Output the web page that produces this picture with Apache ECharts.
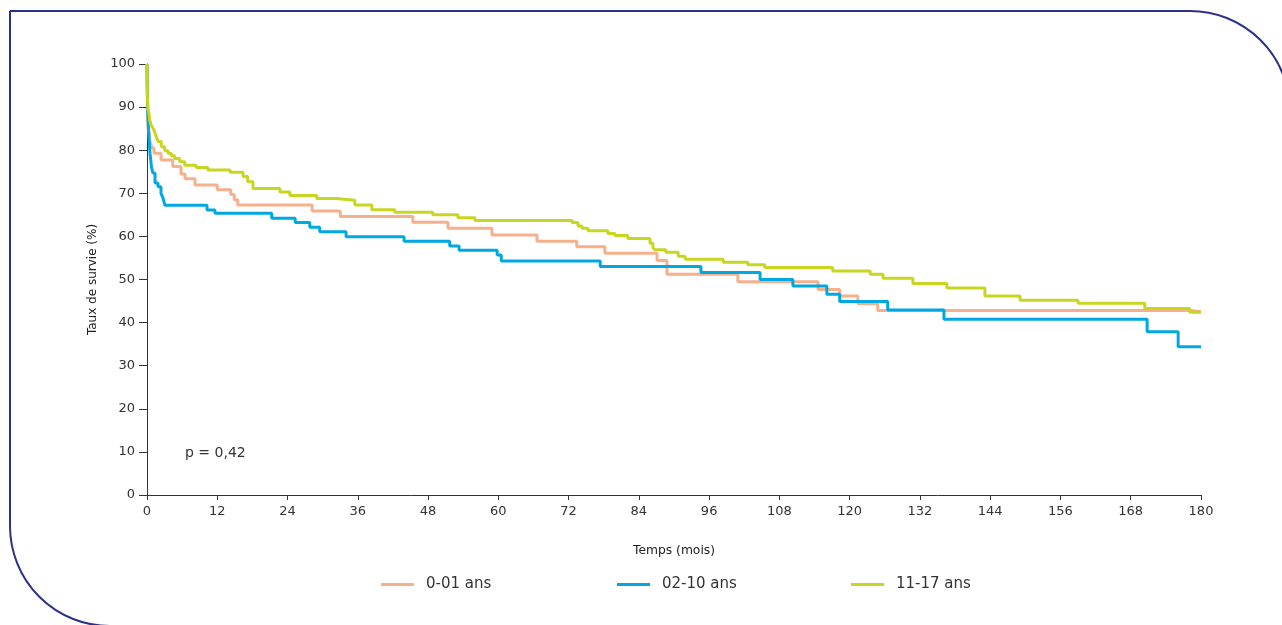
<!DOCTYPE html>
<html>
<head>
<meta charset="utf-8">
<script src="https://cdn.jsdelivr.net/npm/echarts@6/dist/echarts.min.js"></script>
<style>
html,body{margin:0;padding:0;background:#fff;}
#c{width:1282px;height:625px;}
</style>
</head>
<body>
<div id="c"></div>
<script>
// Kaplan-Meier step data (months, survival %)
const seriesNames = ['0-01 ans', '02-10 ans', '11-17 ans'];
const xTicks = [0, 12, 24, 36, 48, 60, 72, 84, 96, 108, 120, 132, 144, 156, 168, 180];

const t0001 = [0, 0.09, 0.17, 0.34, 0.51, 0.85, 1.2, 2.4, 4.4, 5.8, 6.5, 8.2, 12.0, 14.3, 14.9, 15.5, 28.2, 33.0, 45.4, 51.4, 58.9, 66.6, 73.4, 78.2, 87.1, 88.8, 100.9, 114.6, 118.3, 121.4, 124.8, 178.1, 180];
const s0001 = [100, 90, 85, 84, 82, 80.5, 79.3, 77.7, 76.2, 74.5, 73.4, 71.9, 70.8, 69.7, 68.5, 67.3, 65.9, 64.6, 63.3, 61.9, 60.3, 58.9, 57.6, 56.1, 54.4, 51.2, 49.5, 47.7, 46.2, 44.4, 42.8, 42.5, 42.5];

const t0210 = [0, 0.05, 0.1, 0.17, 0.26, 0.34, 0.51, 0.77, 1.02, 1.37, 1.88, 2.39, 2.73, 3.07, 10.25, 11.6, 21.3, 25.3, 27.8, 29.5, 34.0, 43.9, 51.7, 53.3, 59.8, 60.5, 77.4, 94.6, 104.7, 110.3, 116.1, 118.3, 126.5, 136.1, 170.8, 176.1, 180];
const s0210 = [100, 94.4, 91, 87.5, 85, 83, 79.3, 76, 74.7, 72.4, 71.5, 70, 68.9, 67.2, 66.1, 65.4, 64.2, 63.2, 62.1, 61.1, 59.9, 58.9, 57.8, 56.8, 55.7, 54.3, 53.0, 51.6, 50.0, 48.5, 46.6, 44.9, 42.9, 40.8, 37.9, 34.4, 34.4];

const t1117 = [0, 0.05, 0.17, 0.34, 0.46, 0.73, 1.02, 1.31, 1.59, 1.88, 2.44, 3.02, 3.59, 4.15, 4.73, 5.58, 6.44, 8.37, 10.4, 14.2, 16.4, 17.2, 18.1, 22.7, 24.4, 29.0, 32.3, 35.5, 38.4, 42.3, 48.8, 53.1, 56.0, 72.6, 73.6, 74.3, 75.3, 78.7, 79.9, 82.1, 85.9, 86.4, 86.7, 88.6, 90.7, 91.9, 98.4, 102.6, 105.5, 117.1, 123.5, 125.7, 130.8, 136.6, 143.1, 149.1, 159.0, 170.4, 178.1, 180];
const s1117 = [100, 93, 89.3, 88.6, 87, 85.8, 85.1, 84.3, 83.1, 82.0, 80.8, 79.9, 79.3, 78.7, 78.1, 77.3, 76.5, 76.0, 75.4, 74.9, 73.9, 72.7, 71.1, 70.3, 69.5, 68.8, 68.4, 67.3, 66.2, 65.6, 65.0, 64.3, 63.7, 63.2, 62.4, 61.9, 61.3, 60.7, 60.2, 59.5, 58.4, 57.4, 56.9, 56.3, 55.4, 54.7, 54.0, 53.4, 52.8, 52.0, 51.2, 50.3, 49.1, 48.0, 46.2, 45.2, 44.5, 43.3, 42.4, 42.4];

const pText = 'p = 0,42';
const colors = ['#F5B08C', '#00A8E1', '#C8D521'];

function pairs(t, s) { return t.map((v, i) => [v, s[i]]); }
const seriesData = [pairs(t0001, s0001), pairs(t0210, s0210), pairs(t1117, s1117)];

const FONT = '"DejaVu Sans", "Liberation Sans", sans-serif';
const chart = echarts.init(document.getElementById('c'), null, {renderer: 'canvas'});

const legendLefts = [376, 612, 846];

chart.setOption({
  animation: false,
  backgroundColor: '#ffffff',
  textStyle: {fontFamily: FONT},
  grid: {left: 147, right: 81, top: 64, bottom: 130},
  legend: seriesNames.map((n, i) => ({
    data: [n],
    left: legendLefts[i],
    top: 572,
    itemWidth: 33,
    itemHeight: 3,
    itemGap: 6,
    icon: 'rect',
    textStyle: {fontSize: 15, color: '#333', fontFamily: FONT, padding: [0, 0, 0, 7]}
  })),
  xAxis: {
    type: 'value',
    min: 0, max: 180, interval: 12,
    name: 'Temps (mois)',
    nameLocation: 'middle',
    nameGap: 50,
    nameTextStyle: {fontSize: 12.3, color: '#222'},
    axisLine: {lineStyle: {color: '#333', width: 1}},
    axisTick: {show: true, length: 5, lineStyle: {color: '#333'}},
    axisLabel: {fontSize: 13, color: '#333', margin: 10},
    splitLine: {show: false}
  },
  yAxis: {
    type: 'value',
    min: 0, max: 100, interval: 10,
    name: 'Taux de survie (%)',
    nameLocation: 'middle',
    nameGap: 37,
    nameTextStyle: {fontSize: 12, color: '#222'},
    axisLine: {show: true, lineStyle: {color: '#333', width: 1}},
    axisTick: {show: true, length: 8, lineStyle: {color: '#333'}},
    axisLabel: {fontSize: 13, color: '#333', margin: 12},
    splitLine: {show: false}
  },
  graphic: [
    {
      type: 'rect',
      shape: {x: 10, y: 11, width: 1280, height: 615, r: [0, 100, 0, 100]},
      style: {fill: 'none', stroke: '#2E3188', lineWidth: 2},
      silent: true, z: 0
    },
    {
      type: 'text',
      left: 185, top: 446,
      style: {text: pText, fontSize: 14, fill: '#333', fontFamily: FONT}
    }
  ],
  series: seriesNames.map((n, i) => ({
    name: n,
    type: 'line',
    step: 'end',
    data: seriesData[i],
    showSymbol: false,
    symbol: 'none',
    lineStyle: {color: colors[i], width: 3},
    itemStyle: {color: colors[i]},
    z: 2 + i
  }))
});
</script>
</body>
</html>
